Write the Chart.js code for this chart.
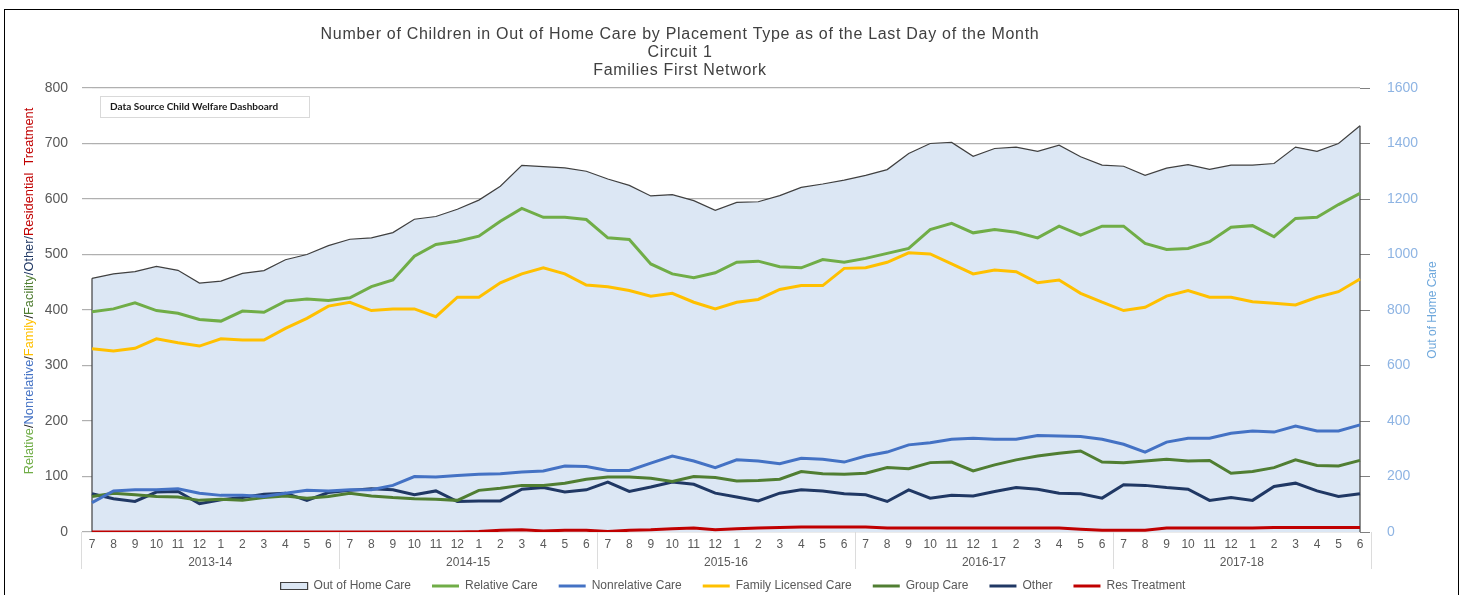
<!DOCTYPE html>
<html>
<head>
<meta charset="utf-8">
<title>Out of Home Care by Placement Type</title>
<script src="https://cdn.jsdelivr.net/npm/chart.js@4.4.1/dist/chart.umd.min.js"></script>
<style>
  html, body { margin: 0; padding: 0; background: #fff; overflow: hidden; }
  #wrap { position: relative; width: 1466px; height: 602px; }
  #frame { position: absolute; left: 4px; top: 9px; width: 1453px; height: 700px;
           border: 1.5px solid #000; pointer-events: none; }
  canvas { position: absolute; left: 0; top: 0; }
</style>
</head>
<body>
<div id="wrap">
  <canvas id="placementChart" width="1466" height="602"></canvas>
  <div id="frame"></div>
</div>
<script>
// month of the fiscal year (July - June) and the fiscal years shown
const months = ['7', '8', '9', '10', '11', '12', '1', '2', '3', '4', '5', '6'];
const fiscalYears = ['2013-14', '2014-15', '2015-16', '2016-17', '2017-18'];

// counts on the last day of each month, Jul 2013 - Jun 2018
const outOfHomeCare = [914, 930, 938, 957, 943, 897, 904, 932, 942, 981, 1000, 1032,
  1055, 1060, 1079, 1127, 1137, 1163, 1196, 1246, 1321, 1317, 1312, 1300,
  1272, 1249, 1211, 1216, 1194, 1159, 1188, 1190, 1212, 1242, 1254, 1268,
  1285, 1306, 1364, 1400, 1404, 1354, 1382, 1387, 1372, 1394, 1352, 1322,
  1318, 1285, 1311, 1324, 1307, 1322, 1322, 1328, 1387, 1372, 1400, 1464];
const relativeCare = [397, 402, 413, 399, 394, 383, 380, 398, 396, 416, 420, 417,
  422, 442, 454, 497, 518, 524, 533, 560, 583, 567, 567, 563,
  530, 527, 483, 465, 458, 467, 486, 488, 478, 476, 491, 486,
  493, 502, 511, 545, 556, 539, 545, 540, 530, 551, 535, 551,
  551, 520, 509, 511, 523, 549, 552, 532, 565, 567, 590, 610];
const nonrelativeCare = [53, 74, 76, 76, 78, 70, 66, 66, 64, 70, 75, 74,
  76, 76, 84, 100, 99, 102, 104, 105, 108, 110, 119, 118,
  111, 111, 124, 137, 128, 116, 130, 128, 123, 133, 131, 126,
  137, 144, 157, 161, 167, 169, 167, 167, 174, 173, 172, 167,
  158, 144, 162, 169, 169, 178, 182, 180, 191, 182, 182, 193];
const familyLicensedCare = [330, 326, 331, 348, 341, 335, 348, 346, 346, 367, 385, 407,
  414, 399, 402, 402, 388, 423, 423, 449, 465, 476, 465, 445,
  442, 435, 425, 430, 414, 402, 414, 419, 437, 444, 444, 475,
  476, 486, 503, 501, 483, 465, 472, 469, 449, 454, 430, 414,
  399, 405, 425, 435, 423, 423, 415, 412, 409, 423, 433, 456];
const groupCare = [64, 70, 67, 64, 63, 57, 59, 57, 62, 65, 61, 64,
  70, 65, 62, 60, 59, 57, 75, 79, 84, 84, 88, 95,
  99, 99, 97, 91, 100, 98, 92, 93, 95, 109, 105, 104,
  106, 116, 114, 125, 126, 110, 121, 130, 137, 142, 146, 126,
  125, 128, 131, 128, 129, 106, 109, 116, 130, 120, 119, 129];
const otherCare = [69, 60, 55, 72, 73, 51, 58, 62, 68, 70, 57, 71,
  75, 78, 76, 67, 74, 55, 56, 56, 77, 80, 72, 76,
  90, 73, 81, 90, 86, 70, 63, 56, 70, 76, 74, 69,
  67, 55, 76, 61, 66, 65, 73, 80, 77, 70, 69, 61,
  85, 84, 80, 77, 57, 62, 57, 82, 88, 74, 64, 69];
const resTreatment = [0, 0, 0, 0, 0, 0, 0, 0, 0, 0, 0, 0,
  0, 0, 0, 0, 0, 0, 1, 3, 4, 2, 3, 3,
  1, 3, 4, 6, 7, 4, 6, 7, 8, 9, 9, 9,
  9, 7, 7, 7, 7, 7, 7, 7, 7, 7, 5, 3,
  3, 3, 7, 7, 7, 7, 7, 8, 8, 8, 8, 8];

const titleLines = [
  'Number of Children in Out of Home Care by Placement Type as of the Last Day of the Month',
  'Circuit 1',
  'Families First Network'
];

const labels = fiscalYears.flatMap(() => months);

const GREEN = '#70ad47';
const BLUE = '#4472c4';
const GOLD = '#ffc000';
const DARK_GREEN = '#507e32';
const NAVY = '#203864';
const RED = '#c00000';

const lineSet = (label, data, color) => ({
  label,
  data,
  borderColor: color,
  backgroundColor: color,
  borderWidth: 3,
  pointRadius: 0,
  pointStyle: 'line',
  tension: 0,
  fill: false,
  yAxisID: 'y'
});

// titles, axis captions, fiscal year row and the side edges of the area
const chartDecor = {
  id: 'chartDecor',
  beforeDatasetsDraw(chart) {
    const { ctx, chartArea } = chart;
    const pts = chart.getDatasetMeta(0).data;
    ctx.save();
    ctx.strokeStyle = '#404040';
    ctx.lineWidth = 1.2;
    ctx.beginPath();
    [pts[0], pts[pts.length - 1]].forEach((p) => {
      ctx.moveTo(p.x, p.y);
      ctx.lineTo(p.x, chartArea.bottom);
    });
    ctx.stroke();
    ctx.restore();
  },
  afterDraw(chart) {
    const { ctx, chartArea, scales } = chart;
    const xs = scales.x;
    ctx.save();

    // chart title
    ctx.fillStyle = '#404040';
    ctx.font = '16px "Liberation Sans", Arial, sans-serif';
    ctx.letterSpacing = '0.7px';
    ctx.textAlign = 'center';
    ctx.textBaseline = 'middle';
    titleLines.forEach((t, i) => ctx.fillText(t, 680, 35 + i * 18));
    ctx.letterSpacing = '0px';

    // data source note
    ctx.fillStyle = '#fff';
    ctx.strokeStyle = '#d9d9d9';
    ctx.lineWidth = 1;
    ctx.fillRect(100, 96, 209, 21);
    ctx.strokeRect(100.5, 96.5, 209, 21);
    ctx.fillStyle = '#1a1a1a';
    ctx.font = 'bold 10px Lato, sans-serif';
    ctx.textAlign = 'left';
    ctx.fillText('Data Source Child Welfare Dashboard', 110, 107);

    // left axis caption, one colour per placement type
    const parts = [
      ['Relative', GREEN], ['/', '#262626'], ['Nonrelative', BLUE], ['/', '#262626'],
      ['Family', GOLD], ['/', '#262626'], ['Facility', DARK_GREEN], ['/Other/', NAVY],
      ['Residential  Treatment', RED]
    ];
    ctx.font = '12.8px "Liberation Sans", Arial, sans-serif';
    const total = parts.reduce((s, [t]) => s + ctx.measureText(t).width, 0);
    ctx.save();
    ctx.translate(29, (chartArea.top + chartArea.bottom) / 2 - 19);
    ctx.rotate(-Math.PI / 2);
    let cx = -total / 2;
    parts.forEach(([t, c]) => {
      ctx.fillStyle = c;
      ctx.fillText(t, cx, 0);
      cx += ctx.measureText(t).width;
    });
    ctx.restore();

    // right axis caption
    ctx.save();
    ctx.font = '12px "Liberation Sans", Arial, sans-serif';
    ctx.translate(1433, (chartArea.top + chartArea.bottom) / 2);
    ctx.rotate(-Math.PI / 2);
    ctx.textAlign = 'center';
    ctx.fillStyle = '#6fa8dc';
    ctx.fillText('Out of Home Care', 0, 0);
    ctx.restore();

    // fiscal year groups under the month ticks
    ctx.font = '12px "Liberation Sans", Arial, sans-serif';
    ctx.strokeStyle = '#dcdcdc';
    ctx.lineWidth = 1;
    ctx.beginPath();
    for (let g = 0; g <= fiscalYears.length; g++) {
      const px = Math.round(xs.getPixelForValue(g * months.length - 0.5)) + 0.5;
      ctx.moveTo(px, chartArea.bottom);
      ctx.lineTo(px, chartArea.bottom + 37);
    }
    ctx.stroke();
    ctx.fillStyle = '#595959';
    ctx.textAlign = 'center';
    fiscalYears.forEach((fy, g) => {
      const px = xs.getPixelForValue(g * months.length + (months.length - 1) / 2);
      ctx.fillText(fy, px, chartArea.bottom + 31);
    });
    ctx.restore();
  }
};

Chart.defaults.font.family = '"Liberation Sans", Arial, sans-serif';

new Chart(document.getElementById('placementChart'), {
  type: 'line',
  data: {
    labels,
    datasets: [
      {
        label: 'Out of Home Care',
        data: outOfHomeCare,
        borderColor: '#404040',
        backgroundColor: '#dce7f4',
        borderWidth: 1.2,
        pointRadius: 0,
        pointStyle: 'rect',
        tension: 0,
        fill: 'origin',
        yAxisID: 'y2'
      },
      lineSet('Relative Care', relativeCare, GREEN),
      lineSet('Nonrelative Care', nonrelativeCare, BLUE),
      lineSet('Family Licensed Care', familyLicensedCare, GOLD),
      lineSet('Group Care', groupCare, DARK_GREEN),
      lineSet('Other', otherCare, NAVY),
      lineSet('Res Treatment', resTreatment, RED)
    ]
  },
  options: {
    responsive: false,
    animation: false,
    devicePixelRatio: 1,
    layout: { padding: { top: 88, left: 0, right: 0, bottom: 0 } },
    plugins: {
      filler: { drawTime: 'beforeDatasetsDraw' },
      tooltip: { enabled: false },
      title: { display: false },
      legend: {
        position: 'bottom',
        labels: {
          usePointStyle: true,
          pointStyleWidth: 27,
          boxHeight: 7,
          padding: 21,
          color: '#595959',
          font: { size: 12 }
        }
      }
    },
    scales: {
      x: {
        offset: false,
        grid: { display: false, drawTicks: false },
        border: { display: false },
        ticks: { color: '#595959', font: { size: 12 }, padding: 5, autoSkip: false, maxRotation: 0 },
        afterFit: (scale) => { scale.height = 27; }
      },
      y: {
        position: 'left',
        min: 0,
        max: 800,
        ticks: { stepSize: 100, color: '#595959', font: { size: 14 }, padding: 14 },
        grid: { color: '#b0b0b0', lineWidth: 1.2, tickLength: 10 },
        border: { display: false },
        afterFit: (scale) => { scale.width = 92; }
      },
      y2: {
        position: 'right',
        min: 0,
        max: 1600,
        ticks: { stepSize: 200, color: '#8eb4e3', font: { size: 14 }, padding: 17, format: { useGrouping: false } },
        grid: { drawOnChartArea: false, color: '#808080', tickLength: 10 },
        border: { display: false },
        afterFit: (scale) => { scale.width = 106; }
      }
    }
  },
  plugins: [chartDecor]
});
</script>
</body>
</html>
